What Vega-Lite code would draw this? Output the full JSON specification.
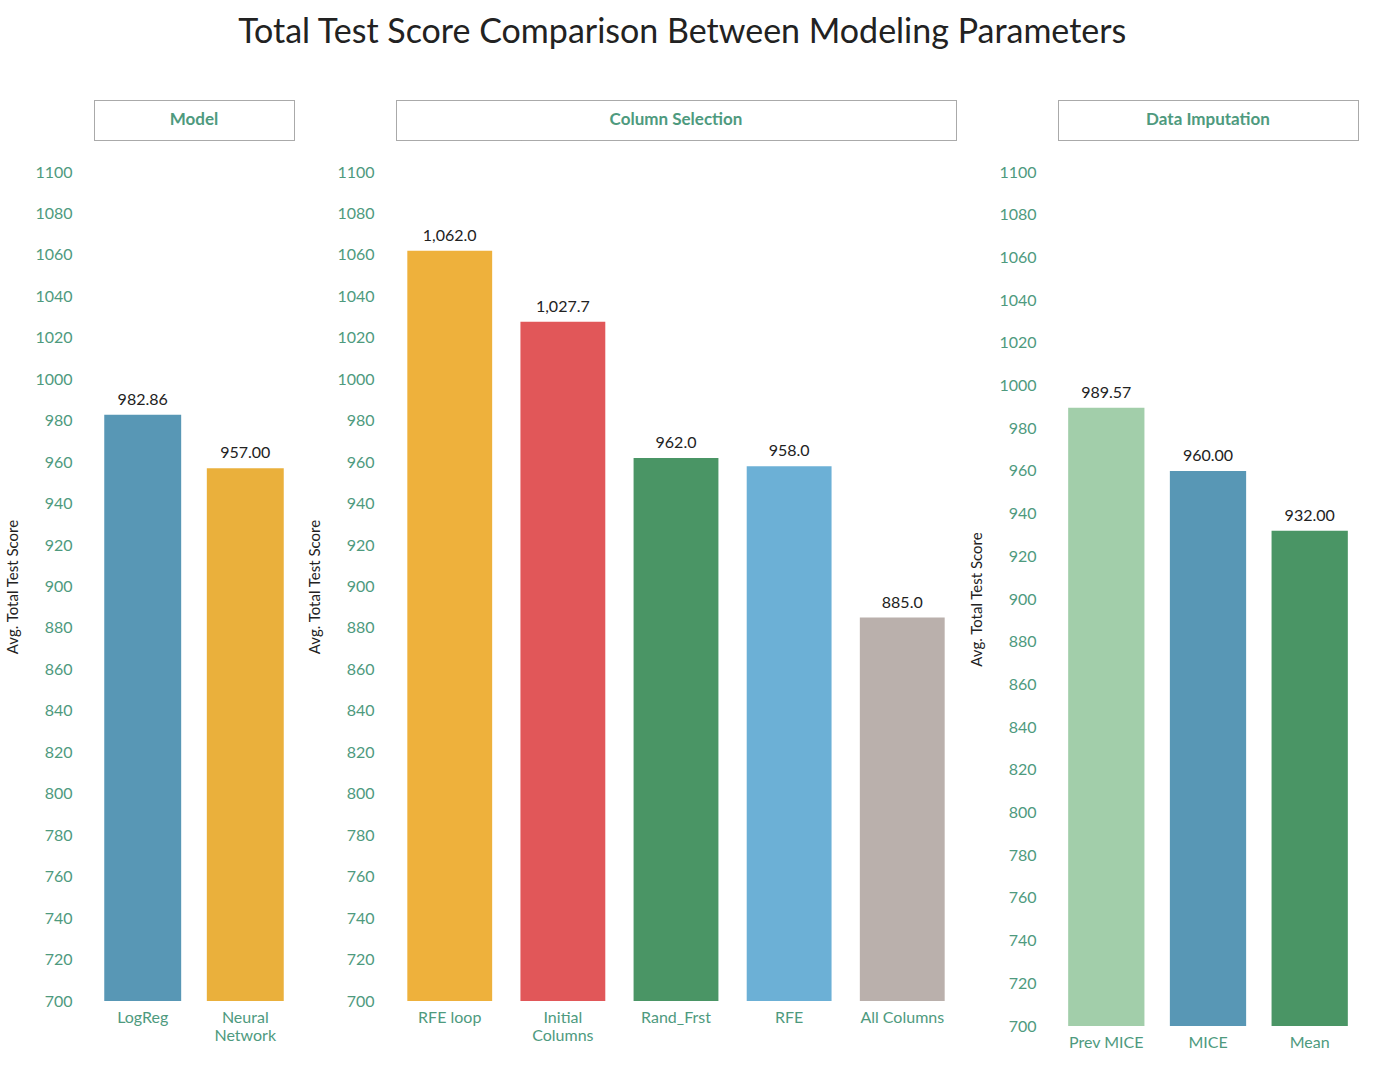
{
  "$schema": "https://vega.github.io/schema/vega-lite/v6.json",
  "background": "white",
  "padding": {"left": 5, "top": 15, "right": 3, "bottom": 5},
  "title": {"text": "Total Test Score Comparison Between Modeling Parameters", "fontSize": 34, "font": "Lato", "fontWeight": "normal", "color": "#222", "offset": 50, "anchor": "middle"},
  "config": {
    "font": "Lato",
    "view": {"stroke": null},
    "axisY": {"domain": false, "ticks": false, "grid": false, "labelColor": "#4e9a7e", "labelFontSize": 16, "labelPadding": 22, "titleColor": "#222", "titleFontSize": 15, "titleFontWeight": "normal", "titlePadding": 14, "format": "d", "values": [700, 750, 800, 850, 900, 950, 1000, 1050, 1100]},
    "axisX": {"domain": false, "ticks": false, "labelColor": "#4e9a7e", "labelFontSize": 16, "labelAngle": 0, "title": null, "labelPadding": 8}
  },
  "datasets": {
    "model": [{"cat": "LogReg", "score": 982.86}, {"cat": "Neural Network", "score": 957.0}],
    "cols": [{"cat": "RFE loop", "score": 1062.0}, {"cat": "Initial Columns", "score": 1027.7}, {"cat": "Rand_Frst", "score": 962.0}, {"cat": "RFE", "score": 958.0}, {"cat": "All Columns", "score": 885.0}],
    "imp": [{"cat": "Prev MICE", "score": 989.57}, {"cat": "MICE", "score": 960.0}, {"cat": "Mean", "score": 932.0}]
  },
  "hconcat": [
    {
      "spacing": 23,
      "vconcat": [
        {"width": 200, "height": 40, "data": {"values": [{"t": "Model"}]}, "view": {"stroke": "#555", "strokeDash": [1, 1]},
         "mark": {"type": "text", "fontSize": 17, "fontWeight": "bold", "color": "#4e9a7e"},
         "encoding": {"text": {"field": "t"}}},
        {"width": 200, "height": 829, "data": {"name": "model"},
         "layer": [
           {"mark": {"type": "bar"}, "encoding": {"color": {"field": "cat", "scale": {"domain": ["LogReg", "Neural Network"], "range": ["#5897b5", "#eab03c"]}, "legend": null}}},
           {"mark": {"type": "text", "dy": -15, "fontSize": 16, "color": "#222"}, "encoding": {"text": {"field": "score", "format": ".2f"}}}
         ],
         "encoding": {
           "x": {"field": "cat", "type": "nominal", "sort": null, "scale": {"paddingInner": 0.25, "paddingOuter": 0.1}, "axis": {"labelExpr": "datum.label == 'Neural Network' ? split(datum.label, ' ') : datum.label"}},
           "y": {"field": "score", "type": "quantitative", "title": "Avg. Total Test Score", "scale": {"domain": [700, 1100], "clamp": true}}
         }}
      ]
    },
    {
      "spacing": 23,
      "vconcat": [
        {"width": 560, "height": 40, "data": {"values": [{"t": "Column Selection"}]}, "view": {"stroke": "#555", "strokeDash": [1, 1]},
         "mark": {"type": "text", "fontSize": 17, "fontWeight": "bold", "color": "#4e9a7e"},
         "encoding": {"text": {"field": "t"}}},
        {"width": 560, "height": 829, "data": {"name": "cols"},
         "layer": [
           {"mark": {"type": "bar"}, "encoding": {"color": {"field": "cat", "scale": {"domain": ["RFE loop", "Initial Columns", "Rand_Frst", "RFE", "All Columns"], "range": ["#eeb13c", "#e15759", "#4a9565", "#6cb0d6", "#bab0ac"]}, "legend": null}}},
           {"mark": {"type": "text", "dy": -15, "fontSize": 16, "color": "#222"}, "encoding": {"text": {"field": "score", "format": ",.1f"}}}
         ],
         "encoding": {
           "x": {"field": "cat", "type": "nominal", "sort": null, "scale": {"paddingInner": 0.25, "paddingOuter": 0.1}, "axis": {"labelExpr": "datum.label == 'Initial Columns' ? split(datum.label, ' ') : datum.label"}},
           "y": {"field": "score", "type": "quantitative", "title": "Avg. Total Test Score", "scale": {"domain": [700, 1100], "clamp": true}}
         }}
      ]
    },
    {
      "spacing": 23,
      "vconcat": [
        {"width": 300, "height": 40, "data": {"values": [{"t": "Data Imputation"}]}, "view": {"stroke": "#555", "strokeDash": [1, 1]},
         "mark": {"type": "text", "fontSize": 17, "fontWeight": "bold", "color": "#4e9a7e"},
         "encoding": {"text": {"field": "t"}}},
        {"width": 300, "height": 854, "data": {"name": "imp"},
         "layer": [
           {"mark": {"type": "bar"}, "encoding": {"color": {"field": "cat", "scale": {"domain": ["Prev MICE", "MICE", "Mean"], "range": ["#a2ceaa", "#5897b5", "#4a9565"]}, "legend": null}}},
           {"mark": {"type": "text", "dy": -15, "fontSize": 16, "color": "#222"}, "encoding": {"text": {"field": "score", "format": ".2f"}}}
         ],
         "encoding": {
           "x": {"field": "cat", "type": "nominal", "sort": null, "scale": {"paddingInner": 0.25, "paddingOuter": 0.1}},
           "y": {"field": "score", "type": "quantitative", "title": "Avg. Total Test Score", "scale": {"domain": [700, 1100], "clamp": true}}
         }}
      ]
    }
  ],
  "resolve": {"scale": {"color": "independent"}},
  "spacing": 12
}
